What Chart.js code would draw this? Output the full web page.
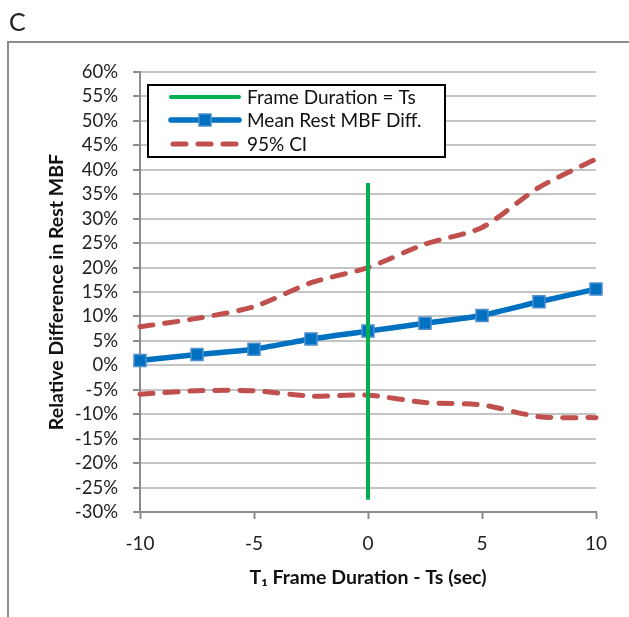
<!DOCTYPE html>
<html>
<head>
<meta charset="utf-8">
<script src="https://cdn.jsdelivr.net/npm/chart.js@4/dist/chart.umd.min.js"></script>
<style>
  html, body { margin: 0; padding: 0; background: #fff; }
  canvas { display: block; }
</style>
</head>
<body>
<canvas id="chart" width="629" height="617"></canvas>
<script>
// values (relative difference, %)
const xValues   = [-10, -7.5, -5, -2.5, 0, 2.5, 5, 7.5, 10]
const meanDiff  = [1.0, 2.2, 3.3, 5.4, 7.0, 8.6, 10.2, 13.0, 15.6]
const ciUpper   = [7.9, 9.6, 12.0, 16.9, 20.0, 24.8, 28.2, 36.4, 42.2]
const ciLower   = [-5.9, -5.2, -5.2, -6.3, -6.1, -7.6, -8.1, -10.5, -10.7]
const tsLineX   = [0, 0]
const tsLineY   = [-27.5, 37.3]
const xTicks    = [-10, -5, 0, 5, 10]
const yRange    = [-30, 60]
const legendLabels = ['Frame Duration = Ts', 'Mean Rest MBF Diff.', '95% CI']

const FONT = 'Lato, "Open Sans", sans-serif'
const GREEN = '#00b050'
const BLUE = '#0070c0'
const RED = '#c0504d'

const pts = (xs, ys) => xs.map((x, i) => ({ x, y: ys[i] }))

// white page, outer frame and panel letter
const framePlugin = {
  id: 'frame',
  beforeDraw(chart) {
    const { ctx, width, height } = chart
    ctx.save()
    ctx.fillStyle = '#fff'
    ctx.fillRect(0, 0, width, height)
    ctx.strokeStyle = '#8c8c8c'
    ctx.lineWidth = 2
    ctx.beginPath()
    ctx.moveTo(8, height)
    ctx.lineTo(8, 42)
    ctx.lineTo(width, 42)
    ctx.stroke()
    ctx.fillStyle = '#222'
    ctx.font = '25px ' + FONT
    ctx.textBaseline = 'alphabetic'
    ctx.fillText('C', 9, 31)
    ctx.restore()
  },
}

// boxed legend inside the plot, one entry for both CI lines
const legendPlugin = {
  id: 'boxLegend',
  afterDraw(chart) {
    const { ctx } = chart
    const box = { x: 148, y: 85, w: 297, h: 72 }
    ctx.save()
    ctx.fillStyle = '#fff'
    ctx.fillRect(box.x, box.y, box.w, box.h)
    ctx.strokeStyle = '#000'
    ctx.lineWidth = 2
    ctx.strokeRect(box.x, box.y, box.w, box.h)

    const rows = [97, 120, 144]
    const x0 = 171, x1 = 239
    ctx.lineCap = 'round'
    // green
    ctx.strokeStyle = GREEN
    ctx.lineWidth = 4
    ctx.beginPath(); ctx.moveTo(x0, rows[0]); ctx.lineTo(x1, rows[0]); ctx.stroke()
    // blue with marker
    ctx.strokeStyle = BLUE
    ctx.lineWidth = 5.5
    ctx.beginPath(); ctx.moveTo(x0, rows[1]); ctx.lineTo(x1, rows[1]); ctx.stroke()
    ctx.fillStyle = BLUE
    ctx.fillRect(199, rows[1] - 6, 12, 12)
    ctx.strokeStyle = '#4f8fd0'
    ctx.lineWidth = 1.5
    ctx.strokeRect(199, rows[1] - 6, 12, 12)
    // red dashed
    ctx.strokeStyle = RED
    ctx.lineWidth = 5
    ctx.setLineDash([13, 12])
    ctx.beginPath(); ctx.moveTo(x0 + 2, rows[2]); ctx.lineTo(x1, rows[2]); ctx.stroke()
    ctx.setLineDash([])

    ctx.fillStyle = '#111'
    ctx.font = '19px ' + FONT
    ctx.textBaseline = 'middle'
    legendLabels.forEach((t, i) => ctx.fillText(t, 247, rows[i] + 1))
    ctx.restore()
  },
}

new Chart(document.getElementById('chart'), {
  type: 'line',
  data: {
    datasets: [
      {
        label: legendLabels[0],
        data: pts(tsLineX, tsLineY),
        borderColor: GREEN,
        borderWidth: 4,
        pointRadius: 0,
        clip: false,
      },
      {
        label: legendLabels[1],
        data: pts(xValues, meanDiff),
        borderColor: BLUE,
        borderWidth: 5.5,
        tension: 0.15,
        pointStyle: 'rect',
        pointRadius: 8.5,
        pointBackgroundColor: BLUE,
        pointBorderColor: '#4f8fd0',
        pointBorderWidth: 1.5,
        clip: false,
      },
      {
        label: legendLabels[2],
        data: pts(xValues, ciUpper),
        borderColor: RED,
        borderWidth: 5,
        borderDash: [13, 12],
        borderCapStyle: 'round',
        tension: 0.25,
        pointRadius: 0,
        clip: false,
      },
      {
        label: legendLabels[2] + ' lower',
        data: pts(xValues, ciLower),
        borderColor: RED,
        borderWidth: 5,
        borderDash: [13, 12],
        borderCapStyle: 'round',
        tension: 0.25,
        pointRadius: 0,
        clip: false,
      },
    ],
  },
  options: {
    responsive: false,
    animation: false,
    devicePixelRatio: 1,
    layout: { padding: { top: 72, right: 33, bottom: 0, left: 0 } },
    plugins: {
      legend: { display: false },
      tooltip: { enabled: false },
    },
    scales: {
      x: {
        type: 'linear',
        min: xTicks[0],
        max: xTicks[xTicks.length - 1],
        afterBuildTicks: s => { s.ticks = xTicks.map(v => ({ value: v })) },
        afterFit: s => { s.height = 105 },
        grid: {
          drawOnChartArea: false,
          tickLength: 7,
          tickColor: '#8c8c8c',
          tickWidth: 2,
        },
        border: { color: '#8c8c8c', width: 2 },
        ticks: { color: '#222', font: { family: FONT, size: 19 }, padding: 13, maxRotation: 0, autoSkip: false },
        title: {
          display: true,
          text: 'T\u2081 Frame Duration - Ts (sec)',
          color: '#111',
          font: { family: FONT, size: 19.5, weight: 'bold' },
          padding: { top: 0, bottom: 28 },
        },
      },
      y: {
        min: yRange[0],
        max: yRange[1],
        afterFit: s => { s.width = 140 },
        ticks: {
          stepSize: 5,
          autoSkip: false,
          color: '#222',
          font: { family: FONT, size: 18.5 },
          padding: 15,
          callback: v => v + '%',
        },
        grid: {
          color: '#c4c4c4',
          lineWidth: 2,
          tickLength: 7,
          tickColor: '#8c8c8c',
          tickWidth: 2,
        },
        border: { color: '#8c8c8c', width: 2 },
        title: {
          display: true,
          text: 'Relative Difference in Rest MBF',
          color: '#111',
          font: { family: FONT, size: 19.5, weight: 'bold' },
          padding: { top: 45, bottom: 0 },
        },
      },
    },
  },
  plugins: [framePlugin, legendPlugin],
})
</script>
</body>
</html>
